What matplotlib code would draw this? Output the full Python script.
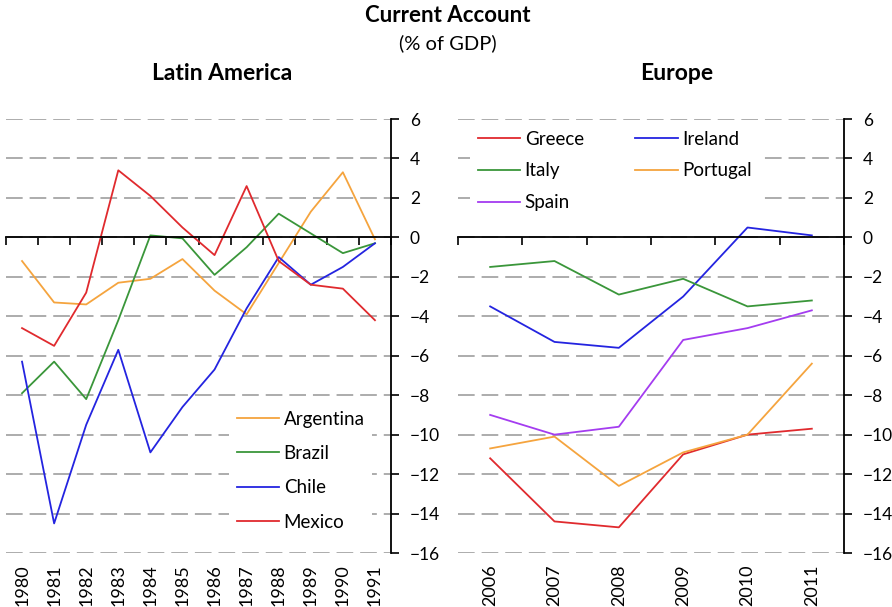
import matplotlib
matplotlib.use("Agg")

import matplotlib.pyplot as plt

# Latin America current account (% of GDP), 1980-1991
la_years = ["1980", "1981", "1982", "1983", "1984", "1985",
            "1986", "1987", "1988", "1989", "1990", "1991"]
argentina = [-1.2, -3.3, -3.4, -2.3, -2.1, -1.1, -2.7, -3.9, -1.3, 1.3, 3.3, -0.1]
brazil = [-7.9, -6.3, -8.2, -4.2, 0.1, -0.05, -1.9, -0.5, 1.2, 0.2, -0.8, -0.3]
chile = [-6.3, -14.5, -9.5, -5.7, -10.9, -8.6, -6.7, -3.6, -1.0, -2.4, -1.5, -0.3]
mexico = [-4.6, -5.5, -2.8, 3.4, 2.1, 0.5, -0.9, 2.6, -1.2, -2.4, -2.6, -4.2]

# Europe current account (% of GDP), 2006-2011
eu_years = ["2006", "2007", "2008", "2009", "2010", "2011"]
greece = [-11.2, -14.4, -14.7, -11.0, -10.0, -9.7]
ireland = [-3.5, -5.3, -5.6, -3.0, 0.5, 0.1]
italy = [-1.5, -1.2, -2.9, -2.1, -3.5, -3.2]
portugal = [-10.7, -10.1, -12.6, -10.9, -10.0, -6.4]
spain = [-9.0, -10.0, -9.6, -5.2, -4.6, -3.7]

RED = "#E02A2E"
BLUE = "#2424E0"
GREEN = "#3A963A"
ORANGE = "#F5A43E"
PURPLE = "#A43CF0"
GRID = "#A6A6A6"

plt.rcParams["font.family"] = ["Lato", "DejaVu Sans"]
plt.rcParams["lines.scale_dashes"] = False

W, H = 892, 607
fig = plt.figure(figsize=(W / 100, H / 100), dpi=100)


def px_axes(x0, x1, y0, y1):
    return fig.add_axes([x0 / W, 1 - y1 / H, (x1 - x0) / W, (y1 - y0) / H])


def style_panel(ax, labels):
    n = len(labels)
    ax.set_xlim(-0.5, n - 0.5)
    ax.set_ylim(-16, 6)
    ax.set_yticks(range(-16, 7, 2))
    ax.yaxis.tick_right()
    ax.tick_params(axis="y", direction="out", length=5.5, width=1.2,
                   labelsize=12.5, pad=8, colors="black")
    ax.grid(True, axis="y", color=GRID, linewidth=1.3, linestyle=(0, (12, 5)))
    ax.set_axisbelow(True)

    for side in ("left", "top"):
        ax.spines[side].set_visible(False)
    ax.spines["right"].set_linewidth(1.3)
    ax.spines["bottom"].set_position(("data", 0))
    ax.spines["bottom"].set_linewidth(1.3)

    # zero line carries the category boundary ticks
    ax.set_xticks([i - 0.5 for i in range(n + 1)])
    ax.tick_params(axis="x", direction="out", length=5.5, width=1.2,
                   labelbottom=False)

    # year labels sit at the bottom of the plot
    sec = ax.secondary_xaxis("bottom")
    sec.set_xticks(range(n))
    sec.set_xticklabels(labels, rotation=90, fontsize=13)
    sec.tick_params(axis="x", length=0, pad=8)
    sec.spines["bottom"].set_visible(False)


LEG = dict(fontsize=13.5, handlelength=2.25, handletextpad=0.25,
           frameon=True, fancybox=False, framealpha=1, facecolor="white",
           edgecolor="none", borderpad=0.4, borderaxespad=0, loc="upper left")

ax1 = px_axes(6, 391, 119, 553)
style_panel(ax1, la_years)
x1 = range(len(la_years))
lw = 1.3
h_arg, = ax1.plot(x1, argentina, color=ORANGE, lw=lw, label="Argentina")
h_bra, = ax1.plot(x1, brazil, color=GREEN, lw=lw, label="Brazil")
h_chi, = ax1.plot(x1, chile, color=BLUE, lw=lw, label="Chile")
h_mex, = ax1.plot(x1, mexico, color=RED, lw=lw, label="Mexico")
ax1.legend(handles=[h_arg, h_bra, h_chi, h_mex], bbox_to_anchor=(0.58, 0.345),
           labelspacing=0.92, **LEG)

ax2 = px_axes(458, 844, 119, 553)
style_panel(ax2, eu_years)
x2 = range(len(eu_years))
h_gre, = ax2.plot(x2, greece, color=RED, lw=lw, label="Greece")
h_ire, = ax2.plot(x2, ireland, color=BLUE, lw=lw, label="Ireland")
h_ita, = ax2.plot(x2, italy, color=GREEN, lw=lw, label="Italy")
h_por, = ax2.plot(x2, portugal, color=ORANGE, lw=lw, label="Portugal")
h_spa, = ax2.plot(x2, spain, color=PURPLE, lw=lw, label="Spain")
ax2.legend(handles=[h_gre, h_ita, h_spa, h_ire, h_por], ncol=2,
           bbox_to_anchor=(0.032, 0.99), labelspacing=0.78, columnspacing=2.75,
           **LEG)

fig.text(448 / W, 1 - 15 / H, "Current Account", ha="center", va="center",
         fontsize=16, fontweight="bold")
fig.text(448 / W, 1 - 43 / H, "(% of GDP)", ha="center", va="center", fontsize=14.5)
fig.text(222 / W, 1 - 73 / H, "Latin America", ha="center", va="center",
         fontsize=16.5, fontweight="bold")
fig.text(677 / W, 1 - 73 / H, "Europe", ha="center", va="center",
         fontsize=16.5, fontweight="bold")

fig.savefig("out.png", dpi=100)
plt.close(fig)
